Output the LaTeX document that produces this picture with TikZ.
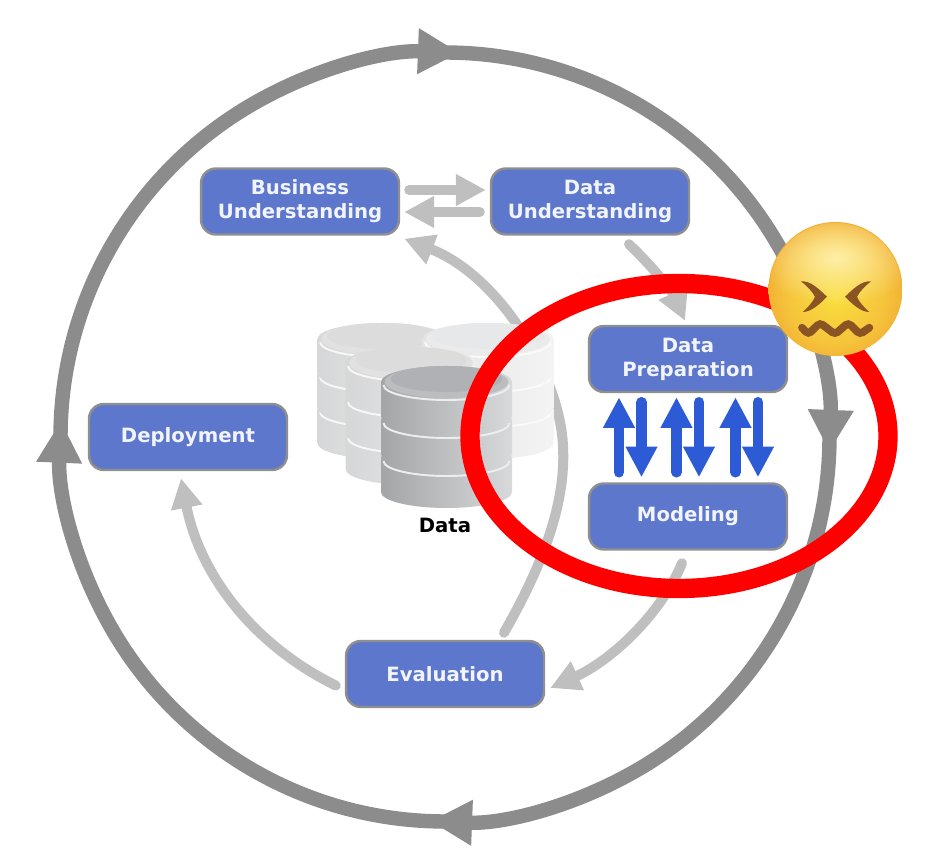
\documentclass[tikz,border=0pt]{standalone}
\usepackage{fontspec}
\setmainfont{DejaVu Sans}
\usepackage{xcolor}
\definecolor{boxblue}{RGB}{92,119,204}
\definecolor{boxedge}{RGB}{143,143,143}
\definecolor{boxtext}{RGB}{242,244,251}
\definecolor{ringgray}{RGB}{140,140,140}
\definecolor{softgray}{RGB}{191,191,191}
\definecolor{swapblue}{RGB}{45,91,214}
\definecolor{dbleft}{RGB}{164,165,167}
\definecolor{dbmid}{RGB}{198,199,201}
\definecolor{dbright}{RGB}{216,217,219}
\definecolor{dbtop}{RGB}{176,177,180}
\definecolor{facemid}{RGB}{249,222,60}
\definecolor{faceyel}{RGB}{246,196,60}
\definecolor{faceora}{RGB}{234,150,40}
\definecolor{faceedge}{RGB}{204,116,24}
\definecolor{facelight}{RGB}{255,244,180}
\definecolor{facebrown}{RGB}{138,84,35}
\usepackage{tikz}
\usetikzlibrary{arrows.meta, fadings}

\pgfdeclareradialshading{facemoji}{\pgfpoint{0bp}{-3bp}}{%
  color(0bp)=(facemid); color(18bp)=(faceyel); color(37bp)=(faceora);
  color(48bp)=(faceedge); color(60bp)=(faceedge)}
\tikzfading[name=softglow, inner color=transparent!10, outer color=transparent!100]

% one stack of three disks, #3 = strength of the grey, #4 = disk spacing
\newcommand{\dbstack}[4]{
  \begin{scope}[shift={(#1,#2)}]
    \foreach \i in {2,1,0} {
      \shade[left color=dbleft!#3!white, middle color=dbmid!#3!white, right color=dbright!#3!white]
        (-65.5,{-\i*#4}) -- (-65.5,{-\i*#4-34})
        arc[start angle=180, end angle=360, x radius=65.5, y radius=16]
        -- (65.5,{-\i*#4}) arc[start angle=0, end angle=180, x radius=65.5, y radius=16];
      \draw[white!55!dbright!#3!white, line width=1.1pt] (-63,{-\i*#4-3})
        arc[start angle=180, end angle=360, x radius=63, y radius=15];
    }
    \fill[dbtop!#3!white!85!white] (0,0) ellipse[x radius=62, y radius=16];
    \fill[dbtop!#3!white] (0,3) ellipse[x radius=56, y radius=13];
  \end{scope}
}

\begin{document}
\begin{tikzpicture}[
    x=0.02cm, y=0.02cm,
    font=\bfseries\fontsize{11.2}{13.6}\selectfont,
    phase/.style={draw=boxedge, line width=1.4pt, fill=boxblue, text=boxtext, rounded corners=8.5pt,
      minimum width=3.96cm, minimum height=1.32cm, inner sep=0pt, align=center},
    ringarrow/.style={draw=ringgray, line width=8.2pt, -{Triangle[length=23.8pt, width=24.4pt]}},
    softarrow/.style={draw=softgray, line width=5.7pt, line cap=round, -{Triangle[length=17pt, width=17pt]}},
    swaparrow/.style={draw=swapblue, line width=6pt, line cap=round, -{Triangle[length=17.5pt, width=17pt]}}
  ]
  \useasboundingbox (0,0) rectangle (934,866);

  % Outer ring
  \coordinate (ringc) at (445,429);
  \foreach \from/\to in {181.6/87.8, 91.8/-2.2, 1.8/-92.2, 271.8/177.6} {
    \draw[ringarrow] (ringc) ++(\from:384.5) arc[start angle=\from, end angle=\to, radius=384.5];
  }

  % Phases
  \node[phase] (bu) at (300,664.5) {Business\\Understanding};
  \node[phase] (du) at (590,664.5) {Data\\Understanding};
  \node[phase] (dp) at (688,507) {Data\\Preparation};
  \node[phase] (mod) at (688,349.5) {Modeling};
  \node[phase] (dep) at (188,429) {Deployment};
  \node[phase] (eval) at (445,192) {Evaluation};

  % Light arrows between phases
  \draw[softarrow] ([shift={(9,11.5)}]bu.east) -- ([shift={(-4,11.5)}]du.west);
  \draw[softarrow] ([shift={(-10,-10.5)}]du.west) -- ([shift={(4,-10.5)}]bu.east);
  \draw[softarrow] ([shift={(39,-8.5)}]du.south) .. controls (650,602) and (672,575) .. ([shift={(-3,4)}]dp.north);
  \draw[softarrow] ([shift={(-6,-12.5)}]mod.south) .. controls (660,250) and (610,205) .. ([shift={(5,-14)}]eval.east);
  \draw[softarrow] ([shift={(-9,-11.5)}]eval.west) .. controls (255,220) and (200,290) .. ([shift={(-7,-7)}]dep.south);
  \draw[softarrow] ([shift={(59,7)}]eval.north) .. controls (545,305) and (566,365) .. (563,420)
    .. controls (560,490) and (500,590) .. ([shift={(4,-3)}]bu.south east);

  % Up and down arrows
  \foreach \up/\down in {-69/-46.5, -11.5/11, 47.5/70} {
    \draw[swaparrow] ([shift={(\up,10)}]mod.north) -- ([shift={(\up,-4)}]dp.south);
    \draw[swaparrow] ([shift={(\down,-9)}]dp.south) -- ([shift={(\down,5)}]mod.north);
  }

  % Database
  \dbstack{383}{527}{45}{35}
  \dbstack{488}{527}{30}{35}
  \dbstack{411}{503}{45}{36}
  \dbstack{446.5}{484}{100}{38}
  \node[text=black] (data) at (445,341) {Data};

  % Red ellipse
  \draw[red, line width=11pt] (679,430) ellipse[x radius=209, y radius=152.5];

  % Face
  \shade[shading=facemoji] (835.5,577) circle (67);
  \begin{scope}
    \clip (835.5,577) circle (66);
    \fill[facelight, path fading=softglow] (836,608) ellipse[x radius=78, y radius=48];
  \end{scope}
  \foreach \side in {1,-1} {
    \begin{scope}[shift={(836,0)}, xscale=\side]
      \fill[facebrown] (-35,584.5) .. controls (-26,586) and (-16,576) .. (-9,569.3)
        .. controls (-16,562) and (-25,554) .. (-33,554) .. controls (-28,559) and (-23,564) .. (-21,569.3)
        .. controls (-24,575) and (-30,581) .. (-35,584.5) -- cycle;
    \end{scope}
  }
  \draw[facebrown, line width=4.4pt, line cap=round, rounded corners=2pt]
    (802,538.3) -- (808.3,531.7) -- (820,543.2) -- (835,531.7) -- (848.3,543.2) -- (860,531.7) -- (869.3,538.3);
\end{tikzpicture}
\end{document}
